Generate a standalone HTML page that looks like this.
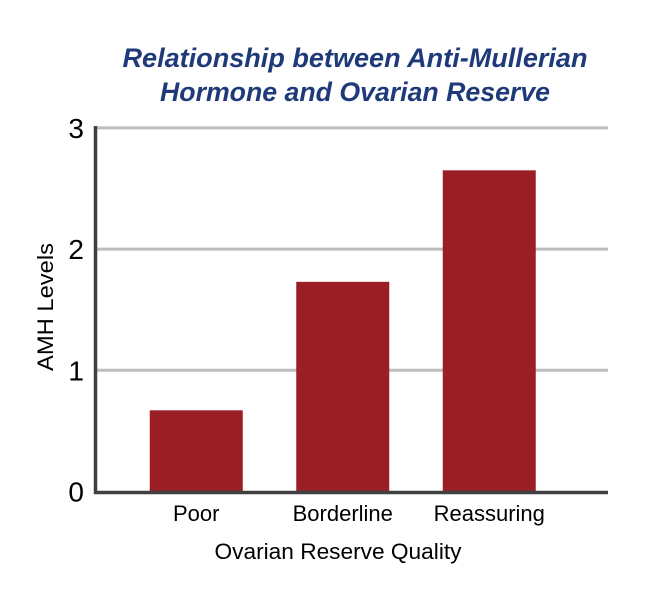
<!DOCTYPE html>
<html><head><meta charset="utf-8"><style>
body{margin:0;background:#fff;}
svg{display:block;font-family:"Liberation Sans",sans-serif;}
</style></head><body>
<svg id="chart" width="649" height="601">
<text x="355" y="67" text-anchor="middle" font-size="27" font-weight="bold" font-style="italic" fill="#1f3a78" textLength="465" lengthAdjust="spacingAndGlyphs">Relationship between Anti-Mullerian</text>
<text x="355" y="101" text-anchor="middle" font-size="27" font-weight="bold" font-style="italic" fill="#1f3a78" textLength="390" lengthAdjust="spacingAndGlyphs">Hormone and Ovarian Reserve</text>
<g id="grid"></g><g id="bars"></g><g id="axes"></g>
<text x="338" y="559" text-anchor="middle" font-size="22" fill="#000" textLength="247" lengthAdjust="spacingAndGlyphs">Ovarian Reserve Quality</text>
<text transform="translate(53,307) rotate(-90)" text-anchor="middle" font-size="22" fill="#000" textLength="128" lengthAdjust="spacingAndGlyphs">AMH Levels</text>
</svg>
<script>
const categories=["Poor","Borderline","Reassuring"];
const values=[0.67,1.73,2.65];
const yTicks=[0,1,2,3];
const NS="http://www.w3.org/2000/svg";
const x0=96,x1=608,y0=491.5,pxPerUnit=121.2;
const y=v=>y0-v*pxPerUnit;
const bandStart=123,band=146.5,barW=93;
const xc=i=>bandStart+band*i+band/2;
function mk(t,a,p){const e=document.createElementNS(NS,t);for(const k in a)e.setAttribute(k,a[k]);p.appendChild(e);return e;}
const g=document.getElementById('grid'),b=document.getElementById('bars'),ax=document.getElementById('axes');
yTicks.forEach(v=>{
 if(v>0){const l=mk('line',{x1:x0,x2:x1,y1:y(v),y2:y(v),stroke:'#bdbdbd','stroke-width':3},g);
 
 }
 const t=mk('text',{x:84,y:y(v)+10,'text-anchor':'end','font-size':28,fill:'#000'},ax);t.textContent=v;
 
 
});
values.forEach((v,i)=>{
 const r=mk('rect',{x:xc(i)-barW/2,y:y(v),width:barW,height:y0-y(v),fill:'#991f24'},b);
 
 
 const t=mk('text',{x:xc(i),y:521,'text-anchor':'middle','font-size':22,fill:'#000'},ax);t.textContent=categories[i];
 
 
});
const ya=mk('line',{x1:95.5,x2:95.5,y1:126,y2:494,stroke:'#404040','stroke-width':3.5},ax);


const xa=mk('line',{x1:94,x2:x1,y1:492.5,y2:492.5,stroke:'#404040','stroke-width':3.5},ax);


</script>
</body></html>
